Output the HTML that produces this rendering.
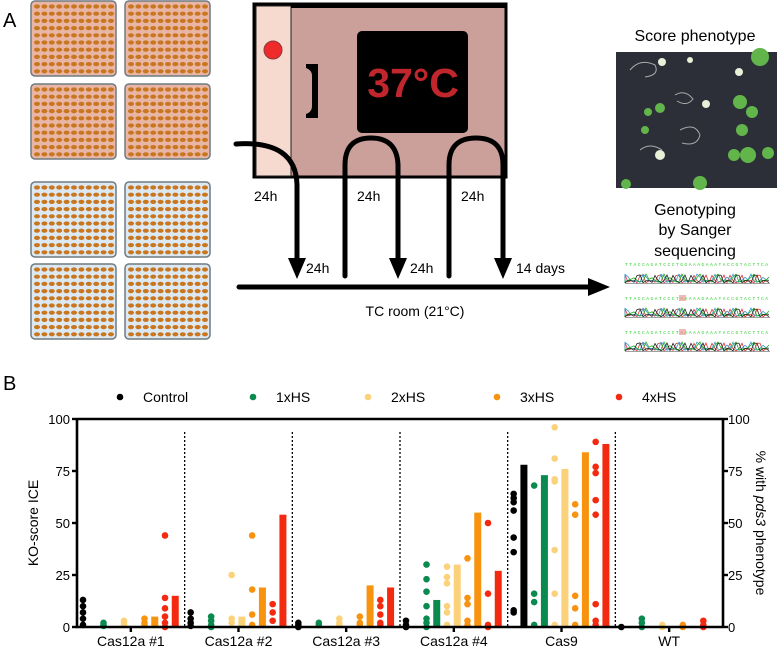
<!DOCTYPE html>
<html><head><meta charset="utf-8"><style>
html,body{margin:0;padding:0;background:#fff;width:777px;height:652px;overflow:hidden}
svg{display:block;font-family:"Liberation Sans",Arial,sans-serif}
</style></head><body>
<svg id="fig" width="777" height="652" viewBox="0 0 777 652" xmlns="http://www.w3.org/2000/svg">
<text x="3" y="27" font-size="20">A</text>
<g id="plates"></g>

<g>
<rect x="254" y="4" width="252" height="173" fill="#cba09b" stroke="#000" stroke-width="3"/>
<rect x="256" y="6" width="35" height="170" fill="#f6d9cf" stroke="#222" stroke-width="1"/>
<rect x="291" y="5" width="214" height="3" fill="#000"/>
<circle cx="273" cy="50" r="9" fill="#ee2a2a" stroke="#8a3b3b" stroke-width="1"/>
<path d="M306 64 h12 v54 h-12 v-4 q6 -2 6 -8 v-30 q0 -6 -6 -8 z" fill="#000"/>
<rect x="357" y="31" width="111" height="102" rx="5" fill="#000"/>
<text x="413" y="97" font-size="41" font-weight="bold" fill="#c1262c" text-anchor="middle">37°C</text>
</g>

<g fill="none" stroke="#000" stroke-width="5" stroke-linecap="round">
<path d="M236 144 Q296 140 297 185 L297 262"/>
<path d="M345 276 L345 165 Q345 138 371 138 Q397 138 398 165 L398 262"/>
<path d="M449 276 L449 165 Q449 138 476 138 Q503 138 503 165 L503 262"/>
<path d="M239 287 L590 287"/>
</g>
<g fill="#000">
<polygon points="288,258 306,258 297,279"/>
<polygon points="389,258 407,258 398,279"/>
<polygon points="494,258 512,258 503,279"/>
<polygon points="588,278 610,287 588,296"/>
</g>
<g font-size="14" fill="#000">
<text x="254" y="201">24h</text><text x="357" y="201">24h</text><text x="461" y="201">24h</text>
<text x="306" y="273">24h</text><text x="410" y="273">24h</text><text x="516" y="273">14 days</text>
<text x="415" y="316" text-anchor="middle">TC room (21°C)</text>
</g>

<text x="695" y="41" font-size="16" text-anchor="middle">Score phenotype</text>
<g>
<rect x="616" y="52" width="161" height="136" fill="#2c2f38"/>
<g fill="none" stroke="#aaa" stroke-width="1">
<path d="M630 70 q10 -12 25 -5 q5 10 -10 12"/><path d="M675 95 q10 -6 18 4 q-6 8 -16 2"/><path d="M680 130 q15 -8 20 5 q-3 12 -18 8"/><path d="M640 150 q10 -8 22 0"/>
</g>
<g fill="#62b54a"><circle cx="760" cy="57" r="9"/><circle cx="740" cy="102" r="7"/><circle cx="752" cy="112" r="6"/><circle cx="742" cy="130" r="6"/><circle cx="748" cy="155" r="8"/><circle cx="768" cy="153" r="6"/><circle cx="734" cy="155" r="6"/><circle cx="660" cy="108" r="5"/><circle cx="648" cy="112" r="4"/><circle cx="645" cy="130" r="4"/><circle cx="700" cy="183" r="7"/><circle cx="626" cy="184" r="5"/></g>
<g fill="#e8f0d8"><circle cx="662" cy="62" r="4"/><circle cx="690" cy="60" r="3"/><circle cx="739" cy="72" r="4"/><circle cx="706" cy="104" r="4"/><circle cx="660" cy="155" r="5"/></g>
</g>
<g font-size="16" text-anchor="middle">
<text x="695" y="215">Genotyping</text><text x="695" y="235">by Sanger</text><text x="695" y="256">sequencing</text>
</g>
<g id="seqs"></g>

<text x="3" y="390" font-size="20">B</text>
<g id="legend"></g>
<g id="chart"></g>
</svg>
<script>
const NS="http://www.w3.org/2000/svg";
function mk(tag,attrs,parent){const e=document.createElementNS(NS,tag);for(const k in attrs)e.setAttribute(k,attrs[k]);parent.appendChild(e);return e;}

// plates
const plates=document.getElementById('plates');
const platePos=[[31,1,'#e9b6a6'],[125,1,'#e9b6a6'],[31,84,'#e9b6a6'],[125,84,'#e9b6a6'],[31,182,'#dde9f2'],[125,182,'#dde9f2'],[31,264,'#dde9f2'],[125,264,'#dde9f2']];
platePos.forEach(p=>{
  const r=mk('rect',{x:p[0],y:p[1],width:85,height:75,rx:4,fill:p[2],stroke:'#6f7b80','stroke-width':1.5},plates);
  
  
  for(let i=0;i<10;i++)for(let j=0;j<11;j++)mk('ellipse',{cx:p[0]+6+j*7.4,cy:p[1]+5.5+i*7.2,rx:3,ry:2.1,fill:'#c8761f'},plates);
});

// sanger traces
const seqs=document.getElementById('seqs');
const seqTxt=['TTACCAGATCCCTGGAAAGAAATACCGTACTTCA','TTACCAGATCCCTAAAAAGAAATACCGTACTTCA','TTACCAGATCCCTAAAAAGAAATACCGTACTTCA'];
[266,300,334].forEach((y,k)=>{
  const t=mk('text',{x:625,y:y,'font-size':4.6,fill:'#2fd12f','font-family':'Liberation Mono, monospace',textLength:143},seqs);
  t.textContent=seqTxt[k];
  if(k>0)mk('rect',{x:679,y:y-5,width:7,height:6,fill:'#e88','opacity':0.6},seqs);
  const cols=['#d33','#39c','#2a2','#222'];
  cols.forEach((c,ci)=>{
    let d='M625 '+(y+17);
    for(let x=625;x<=770;x+=3){d+=' L'+x+' '+(y+17-Math.abs(Math.sin((x+ci*7)*0.35))*9*((x+ci*13)%17>8?1:0.3));}
    mk('path',{d:d,fill:'none',stroke:c,'stroke-width':0.8},seqs);
  });
  mk('line',{x1:625,y1:y+17.5,x2:770,y2:y+17.5,stroke:'#444','stroke-width':0.6},seqs);
});

// ===== chart data =====
const categories=['Cas12a #1','Cas12a #2','Cas12a #3','Cas12a #4','Cas9','WT'];
const seriesNames=['Control','1xHS','2xHS','3xHS','4xHS'];
const seriesColors=['#000000','#0a8a4e','#fbd27a','#f7930f','#f42a10'];
const yTicks=[0,25,50,75,100];
// KO-score dots per category per series
const dotsControl=[[13,10,7,4,1],[7,4,2,0.5],[2,1,0],[3,1,0],[64,62,60,56,43,36,8,7],[0]];
const dots1xHS=[[2,1,0.5],[5,3,1,0],[2,1],[30,23,17,10,4,2,0],[68,16,12,1],[4,2,0]];
const dots2xHS=[[3,2,1],[25,4,2],[4,2,1],[29,24,21,10,7,1],[96,81,71,70,37,16,1],[1,0]];
const dots3xHS=[[4,2,1],[44,18,6,1],[5,2,1],[33,14,11,3,1],[59,54,15,9,1],[1,0]];
const dots4xHS=[[44,14,9,5,2,0],[11,7,3],[13,10,6,2,1],[50,16,1,0],[89,77,74,61,54,11,3,1],[3,1,0]];
// % with pds3 phenotype bars
const barControl=[0,0,0,0,78,0];
const bar1xHS=[0,0,0,13,73,0];
const bar2xHS=[0,5,0,30,76,0];
const bar3xHS=[5,19,20,55,84,0];
const bar4xHS=[15,54,19,27,88,0];
const allDots=[dotsControl,dots1xHS,dots2xHS,dots3xHS,dots4xHS];
const allBars=[barControl,bar1xHS,bar2xHS,bar3xHS,bar4xHS];

const X0=77,X1=723,Y0=627,Y1=419;
const gw=(X1-X0)/categories.length;
const yS=v=>Y0-(v/100)*(Y0-Y1);
const slotX=(g,s)=>X0+g*gw+6+s*10.25;

const chart=document.getElementById('chart');
for(let g=1;g<categories.length;g++){
  const l=mk('line',{x1:X0+g*gw,y1:432,x2:X0+g*gw,y2:Y0,stroke:'#000','stroke-width':1.3,'stroke-dasharray':'2,2'},chart);
  
  
}
categories.forEach((c,g)=>{
  for(let s=0;s<5;s++){
    const v=allBars[s][g];
    if(v>0){
      const b=mk('rect',{x:slotX(g,2*s+1)-3.5,y:yS(v),width:7,height:Y0-yS(v),fill:seriesColors[s]},chart);
      
      
    }
    allDots[s][g].forEach(d=>{
      const p=mk('circle',{cx:slotX(g,2*s),cy:yS(d),r:3.3,fill:seriesColors[s]},chart);
      
      
    });
  }
});
const ax=mk('path',{d:`M${X0} ${Y1} H${X1} M${X0} ${Y1-1} V${Y0} H${X1} M${X1} ${Y1-1} V${Y0+1}`,stroke:'#000','stroke-width':2.6,fill:'none'},chart);


yTicks.forEach(t=>{
  const y=yS(t);
  mk('line',{x1:X0-5,y1:y,x2:X0,y2:y,stroke:'#000','stroke-width':2.4},chart);
  mk('line',{x1:X1,y1:y,x2:X1+5,y2:y,stroke:'#000','stroke-width':2.4},chart);
  const a=mk('text',{x:X0-7,y:y+5,'font-size':13,'text-anchor':'end'},chart);a.textContent=t;
  
  
  const b=mk('text',{x:X1+5,y:y+5,'font-size':13},chart);b.textContent=t;
  
  
});
categories.forEach((c,g)=>{
  const cx=X0+(g+0.5)*gw;
  mk('line',{x1:cx,y1:Y0,x2:cx,y2:Y0+5,stroke:'#000','stroke-width':2.4},chart);
  const t=mk('text',{x:cx,y:646,'font-size':14,'text-anchor':'middle'},chart);t.textContent=c;
  
  
});
const yl=mk('text',{x:0,y:0,'font-size':14,'text-anchor':'middle',transform:'translate(38,523) rotate(-90)'},chart);
yl.textContent='KO-score ICE';


const yr=mk('text',{x:0,y:0,'font-size':14,'text-anchor':'middle',transform:'translate(756,523) rotate(90)'},chart);


yr.innerHTML='% with <tspan font-style="italic">pds3</tspan> phenotype';

const legend=document.getElementById('legend');
const legX=[120,253,368,497,619];
seriesNames.forEach((n,i)=>{
  const c=mk('circle',{cx:legX[i],cy:397,r:3.3,fill:seriesColors[i]},legend);
  
  
  const t=mk('text',{x:legX[i]+23,y:402,'font-size':14},legend);t.textContent=n;
  
  
});
</script>
</body></html>
